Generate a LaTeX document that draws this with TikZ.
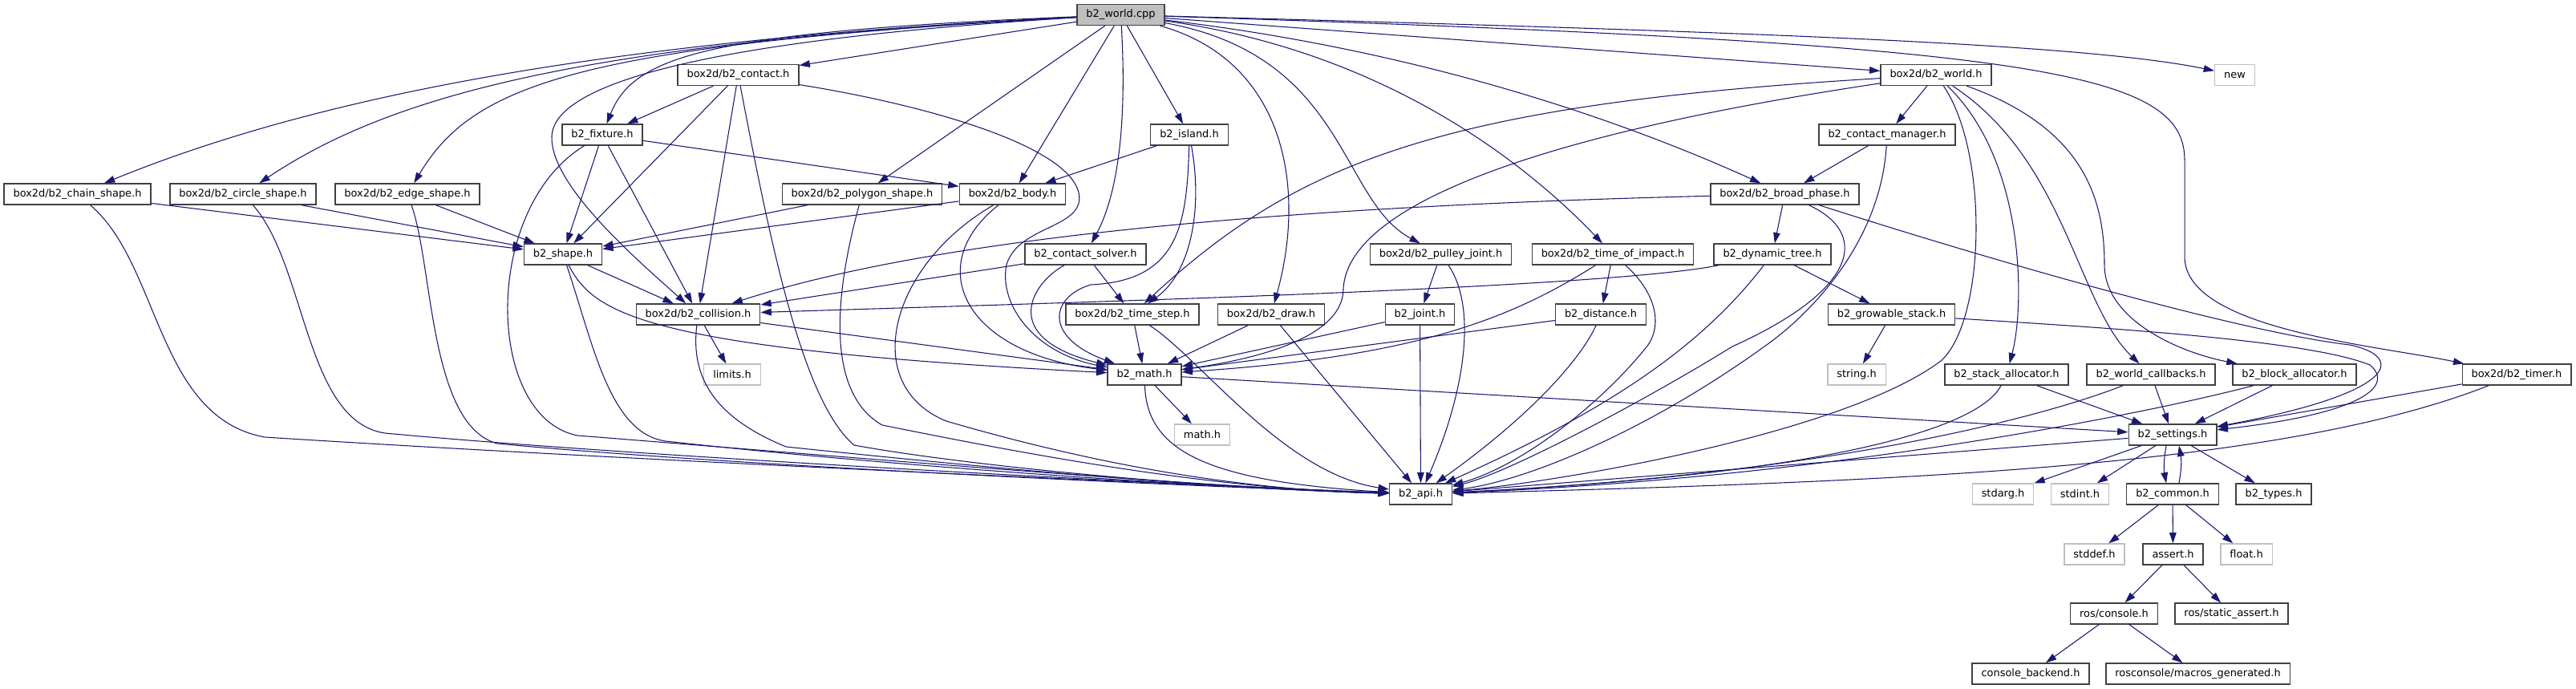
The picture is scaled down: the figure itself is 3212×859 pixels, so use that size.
\documentclass[tikz,border=0pt]{standalone}
\usepackage{fontspec}
\setmainfont{DejaVu Sans}
\usetikzlibrary{arrows.meta}
\definecolor{edgeblue}{HTML}{191970}
\definecolor{boxgray}{HTML}{404040}
\definecolor{sysgray}{HTML}{BFBFBF}
\begin{document}
\begin{tikzpicture}[x=0.75pt,y=-0.75pt]
\tikzstyle{file} = [draw=boxgray, fill=white, line width=1pt, inner xsep=8.6pt, inner ysep=0pt, minimum height=19.5pt, font=\fontsize{9.7}{11}\selectfont];
\tikzstyle{sysfile} = [file, draw=sysgray];
\tikzstyle{rootfile} = [file, fill=sysgray];
\tikzstyle{dep} = [-{Triangle[length=10pt,width=6.5pt]}, draw=edgeblue, line width=0.8pt];
\useasboundingbox (0,0) rectangle (3212,859);
\node[rootfile] (cpp) at (1397.5,18.5) {b2\_world.cpp};
\node[file] (contact) at (920.5,93.5) {box2d/b2\_contact.h};
\node[file] (worldh) at (2414,93.5) {box2d/b2\_world.h};
\node[sysfile] (new) at (2786.5,93.5) {new};
\node[file] (fixture) at (751,168) {b2\_fixture.h};
\node[file] (island) at (1483,168) {b2\_island.h};
\node[file] (cmgr) at (2353,168) {b2\_contact\_manager.h};
\node[file] (chain) at (96.5,242) {box2d/b2\_chain\_shape.h};
\node[file] (circle) at (303,242) {box2d/b2\_circle\_shape.h};
\node[file] (edge) at (508,242) {box2d/b2\_edge\_shape.h};
\node[file] (polygon) at (1075,242) {box2d/b2\_polygon\_shape.h};
\node[file] (body) at (1262.5,242) {box2d/b2\_body.h};
\node[file] (broad) at (2225.5,242) {box2d/b2\_broad\_phase.h};
\node[file] (shape) at (702,317) {b2\_shape.h};
\node[file] (solver) at (1353.5,317) {b2\_contact\_solver.h};
\node[file] (pulley) at (1796.5,317) {box2d/b2\_pulley\_joint.h};
\node[file] (toi) at (2011,317) {box2d/b2\_time\_of\_impact.h};
\node[file] (dtree) at (2210,317) {b2\_dynamic\_tree.h};
\node[file] (coll) at (870.5,392) {box2d/b2\_collision.h};
\node[file] (tstep) at (1412,392) {box2d/b2\_time\_step.h};
\node[file] (drawh) at (1585,392) {box2d/b2\_draw.h};
\node[file] (joint) at (1770.5,392) {b2\_joint.h};
\node[file] (dist) at (1996,392) {b2\_distance.h};
\node[file] (gstack) at (2358.5,392) {b2\_growable\_stack.h};
\node[sysfile] (limits) at (913,467) {limits.h};
\node[file] (math) at (1427,467) {b2\_math.h};
\node[sysfile] (string) at (2315,467) {string.h};
\node[file] (salloc) at (2502,467) {b2\_stack\_allocator.h};
\node[file] (callbacks) at (2682,467) {b2\_world\_callbacks.h};
\node[file] (balloc) at (2861,467) {b2\_block\_allocator.h};
\node[file] (timer) at (3138,467) {box2d/b2\_timer.h};
\node[sysfile] (mathh) at (1499,542) {math.h};
\node[file] (settings) at (2709,542) {b2\_settings.h};
\node[file] (api) at (1771.5,616) {b2\_api.h};
\node[sysfile] (stdarg) at (2497.5,616) {stdarg.h};
\node[sysfile] (stdint) at (2593.5,616) {stdint.h};
\node[file] (common) at (2709,616) {b2\_common.h};
\node[file] (types) at (2835,616) {b2\_types.h};
\node[sysfile] (stddef) at (2611.5,691) {stddef.h};
\node[file] (assert) at (2709.5,691) {assert.h};
\node[sysfile] (float) at (2801,691) {float.h};
\node[file] (console) at (2636,765) {ros/console.h};
\node[file] (sassert) at (2782.5,765) {ros/static\_assert.h};
\node[file] (backend) at (2532,840) {console\_backend.h};
\node[file] (macros) at (2740.5,840) {rosconsole/macros\_generated.h};
\draw[dep] (cpp) .. controls (800,48) and (420,110) .. (chain);
\draw[dep] (cpp) .. controls (760,52) and (500,110) .. (circle);
\draw[dep] (cpp) .. controls (720,56) and (590,105) .. (edge);
\draw[dep] (cpp) .. controls (880,40) and (790,70) .. (fixture);
\draw[dep] (cpp) .. controls (800,55) and (690,120) .. (688,170) .. controls (686,230) and (790,320) .. (coll);
\draw[dep] (cpp) -- (contact);
\draw[dep] (cpp) -- (polygon);
\draw[dep] (cpp) -- (body);
\draw[dep] (cpp) -- (island);
\draw[dep] (cpp) .. controls (1405,150) and (1395,240) .. (solver);
\draw[dep] (cpp) .. controls (1600,75) and (1630,230) .. (drawh);
\draw[dep] (cpp) .. controls (1680,70) and (1670,250) .. (pulley);
\draw[dep] (cpp) .. controls (1700,60) and (1880,180) .. (toi);
\draw[dep] (cpp) .. controls (1750,60) and (2000,140) .. (broad);
\draw[dep] (cpp) -- (worldh);
\draw[dep] (cpp) .. controls (2200,40) and (2600,55) .. (new);
\draw[dep] (cpp) .. controls (2550,55) and (2724,90) .. (2724,200) -- (2724,320) .. controls (2724,410) and (2960,430) .. (timer);
\draw[dep] (contact) -- (fixture);
\draw[dep] (contact) -- (shape);
\draw[dep] (contact) -- (coll);
\draw[dep] (contact) .. controls (960,300) and (1000,500) .. (1065,555) .. controls (1200,580) and (1500,609) .. (api);
\draw[dep] (contact) .. controls (1150,130) and (1330,180) .. (1345,240) .. controls (1355,285) and (1270,280) .. (1255,330) .. controls (1245,380) and (1290,440) .. (math);
\draw[dep] (fixture) -- (body);
\draw[dep] (fixture) -- (shape);
\draw[dep] (fixture) -- (coll);
\draw[dep] (fixture) .. controls (600,260) and (605,520) .. (720,543) .. controls (1000,565) and (1500,608) .. (api);
\draw[dep] (chain) -- (shape);
\draw[dep] (chain) .. controls (200,330) and (195,520) .. (330,545) .. controls (800,575) and (1500,605) .. (api);
\draw[dep] (circle) -- (shape);
\draw[dep] (circle) .. controls (382,330) and (380,525) .. (480,540) .. controls (800,570) and (1500,606) .. (api);
\draw[dep] (edge) -- (shape);
\draw[dep] (edge) .. controls (540,330) and (535,530) .. (620,553) .. controls (900,580) and (1500,607) .. (api);
\draw[dep] (polygon) -- (shape);
\draw[dep] (polygon) .. controls (1040,370) and (1030,490) .. (1100,530) .. controls (1250,560) and (1500,610) .. (api);
\draw[dep] (body) -- (shape);
\draw[dep] (body) .. controls (1150,330) and (1200,440) .. (math);
\draw[dep] (body) .. controls (1110,330) and (1070,480) .. (1180,525) .. controls (1300,560) and (1500,610) .. (api);
\draw[dep] (island) -- (body);
\draw[dep] (island) .. controls (1500,260) and (1485,340) .. (tstep);
\draw[dep] (island) .. controls (1480,280) and (1470,350) .. (1360,355) .. controls (1310,370) and (1300,420) .. (math);
\draw[dep] (solver) -- (coll);
\draw[dep] (solver) -- (tstep);
\draw[dep] (solver) .. controls (1290,350) and (1240,420) .. (math);
\draw[dep] (shape) -- (coll);
\draw[dep] (shape) .. controls (740,390) and (800,435) .. (math);
\draw[dep] (shape) .. controls (740,430) and (760,540) .. (830,550) .. controls (1100,580) and (1500,608) .. (api);
\draw[dep] (coll) -- (limits);
\draw[dep] (coll) -- (math);
\draw[dep] (coll) .. controls (861,470) and (890,520) .. (980,557) .. controls (1200,580) and (1500,609) .. (api);
\draw[dep] (worldh) -- (cmgr);
\draw[dep] (worldh) .. controls (1800,130) and (1620,200) .. (tstep);
\draw[dep] (worldh) .. controls (1900,170) and (1680,260) .. (1675,360) .. controls (1675,425) and (1550,450) .. (math);
\draw[dep] (worldh) .. controls (2480,190) and (2476,400) .. (2420,450) .. controls (2300,540) and (1950,600) .. (api);
\draw[dep] (worldh) .. controls (2525,200) and (2525,380) .. (salloc);
\draw[dep] (worldh) .. controls (2576,200) and (2590,380) .. (callbacks);
\draw[dep] (worldh) .. controls (2600,160) and (2624,250) .. (2624,330) .. controls (2624,400) and (2720,440) .. (balloc);
\draw[dep] (cmgr) -- (broad);
\draw[dep] (cmgr) .. controls (2345,300) and (2260,390) .. (2200,432) .. controls (2050,540) and (1900,600) .. (api);
\draw[dep] (broad) .. controls (1700,255) and (1200,285) .. (coll);
\draw[dep] (broad) -- (dtree);
\draw[dep] (broad) .. controls (2330,290) and (2320,360) .. (2160,432) .. controls (2050,500) and (1880,590) .. (api);
\draw[dep] (broad) .. controls (2500,330) and (2800,415) .. (2930,430) .. controls (3000,445) and (2990,490) .. (settings);
\draw[dep] (dtree) .. controls (2000,360) and (1300,378) .. (coll);
\draw[dep] (dtree) -- (gstack);
\draw[dep] (dtree) .. controls (2130,420) and (2030,500) .. (api);
\draw[dep] (pulley) -- (joint);
\draw[dep] (pulley) .. controls (1840,380) and (1830,480) .. (api);
\draw[dep] (toi) -- (dist);
\draw[dep] (toi) .. controls (1880,400) and (1760,445) .. (math);
\draw[dep] (toi) .. controls (2060,360) and (2075,400) .. (2055,430) .. controls (2000,500) and (1900,580) .. (api);
\draw[dep] (joint) -- (math);
\draw[dep] (joint) -- (api);
\draw[dep] (dist) -- (math);
\draw[dep] (dist) .. controls (1975,440) and (1920,510) .. (api);
\draw[dep] (drawh) -- (math);
\draw[dep] (drawh) -- (api);
\draw[dep] (tstep) -- (math);
\draw[dep] (tstep) .. controls (1495,445) and (1600,590) .. (api);
\draw[dep] (gstack) -- (string);
\draw[dep] (gstack) .. controls (2650,410) and (2880,425) .. (2955,455) .. controls (2985,480) and (2950,515) .. (settings);
\draw[dep] (math) -- (mathh);
\draw[dep] (math) .. controls (1430,560) and (1500,600) .. (api);
\draw[dep] (math) -- (settings);
\draw[dep] (salloc) -- (settings);
\draw[dep] (salloc) .. controls (2470,530) and (2300,590) .. (api);
\draw[dep] (callbacks) -- (settings);
\draw[dep] (callbacks) .. controls (2560,515) and (2300,590) .. (api);
\draw[dep] (balloc) -- (settings);
\draw[dep] (balloc) .. controls (2700,510) and (2300,595) .. (api);
\draw[dep] (timer) -- (settings);
\draw[dep] (timer) .. controls (2850,580) and (2400,600) .. (api);
\draw[dep] (settings) -- (api);
\draw[dep] (settings) -- (stdarg);
\draw[dep] (settings) -- (stdint);
\draw[dep] ([xshift=-6pt]settings.south) to[bend right=10] ([xshift=-6pt]common.north);
\draw[dep] (settings) -- (types);
\draw[dep] ([xshift=6pt]common.north) to[bend right=10] ([xshift=6pt]settings.south);
\draw[dep] (common) -- (stddef);
\draw[dep] (common) -- (assert);
\draw[dep] (common) -- (float);
\draw[dep] (assert) -- (console);
\draw[dep] (assert) -- (sassert);
\draw[dep] (console) -- (backend);
\draw[dep] (console) -- (macros);
\end{tikzpicture}
\end{document}
